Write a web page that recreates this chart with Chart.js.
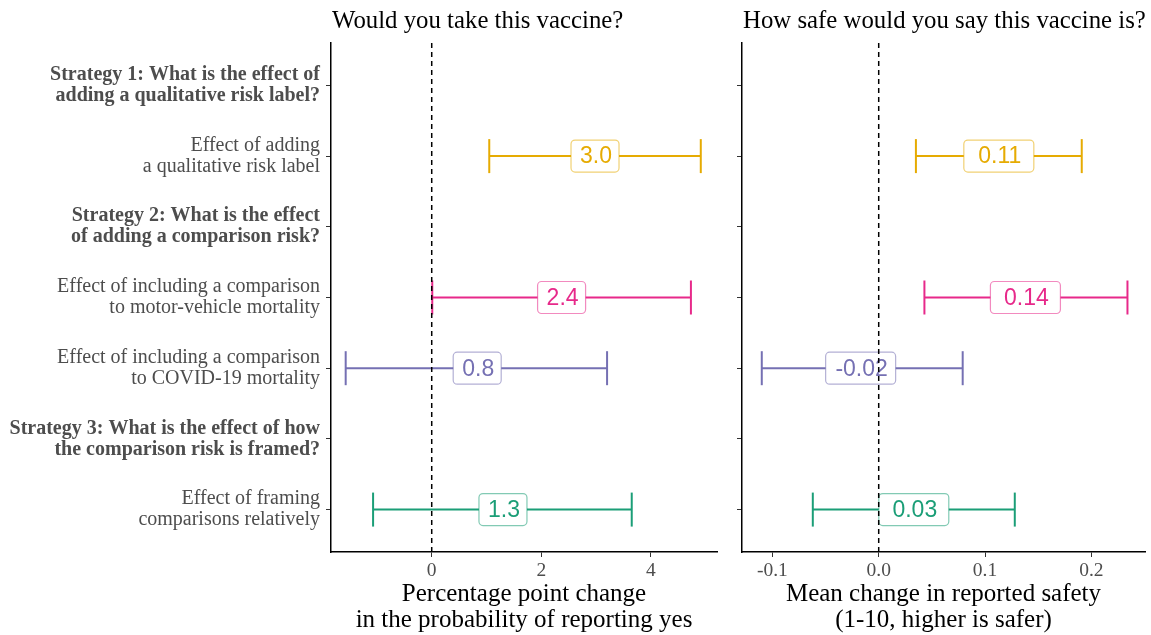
<!DOCTYPE html>
<html>
<head>
<meta charset="utf-8">
<script src="https://cdn.jsdelivr.net/npm/chart.js@4.4.1/dist/chart.umd.min.js"></script>
<style>
  html, body { margin: 0; padding: 0; background: #ffffff; }
  #wrap { position: relative; width: 1151px; height: 635px; overflow: hidden; background: #fff; }
  #c1 { position: absolute; left: 0; top: 0; }
  #c2 { position: absolute; left: 725px; top: 0; }
</style>
</head>
<body>
<div id="wrap">
  <canvas id="c1" width="730" height="635" style="width:730px;height:635px"></canvas>
  <canvas id="c2" width="426" height="635" style="width:426px;height:635px"></canvas>
</div>
<script>
// ---------------- DATA ----------------
const categories = [
  ["Strategy 1: What is the effect of", "adding a qualitative risk label?"],
  ["Effect of adding", "a qualitative risk label"],
  ["Strategy 2: What is the effect", "of adding a comparison risk?"],
  ["Effect of including a comparison", "to motor-vehicle mortality"],
  ["Effect of including a comparison", "to COVID-19 mortality"],
  ["Strategy 3: What is the effect of how", "the comparison risk is framed?"],
  ["Effect of framing", "comparisons relatively"]
];
const isHeader = [true, false, true, false, false, true, false];
const effectRows = [1, 3, 4, 6];
const effectColors = ["#E6AB02", "#E7298A", "#7570B3", "#1B9E77"];

// Panel 1: Would you take this vaccine? (percentage points)
const takeEst = [2.98, 2.37, 0.83, 1.30];
const takeLow = [1.05, 0.01, -1.57, -1.07];
const takeHigh = [4.91, 4.73, 3.20, 3.65];
const takeLabels = ["3.0", "2.4", "0.8", "1.3"];
const takeTicks = [0, 2, 4];

// Panel 2: How safe would you say this vaccine is? (mean change, 1-10)
const safeEst = [0.113, 0.138, -0.017, 0.033];
const safeLow = [0.035, 0.043, -0.110, -0.062];
const safeHigh = [0.191, 0.234, 0.079, 0.128];
const safeLabels = ["0.11", "0.14", "-0.02", "0.03"];
const safeTicks = [-0.1, 0.0, 0.1, 0.2];

const panelTitles = ["Would you take this vaccine?", "How safe would you say this vaccine is?"];
const axisTitles = [
  ["Percentage point change", "in the probability of reporting yes"],
  ["Mean change in reported safety", "(1-10, higher is safer)"]
];

// ---------------- HELPERS ----------------
const SERIF = "'Liberation Serif', 'Times New Roman', serif";
const SANS = "'Liberation Sans', Arial, sans-serif";

function hexA(hex, a) {
  const n = parseInt(hex.slice(1), 16);
  return `rgba(${(n >> 16) & 255},${(n >> 8) & 255},${n & 255},${a})`;
}

const labelPlugin = {
  id: 'estLabels',
  beforeDatasetDraw(chart, args, opts) {
    if (args.index !== 0) return;
    const ctx = chart.ctx;
    const xs = chart.scales.x, ys = chart.scales.y;
    const est = opts.est, labels = opts.labels;
    ctx.save();
    ctx.font = "23px " + SANS;
    ctx.textAlign = 'center';
    ctx.textBaseline = 'middle';
    for (let i = 0; i < est.length; i++) {
      const cx = xs.getPixelForValue(est[i]);
      const cy = ys.getPixelForValue(effectRows[i]);
      const w = Math.max(ctx.measureText(labels[i]).width + 15, opts.boxW);
      const h = 32;
      const x0 = cx - w / 2, y0 = cy - h / 2;
      ctx.beginPath();
      ctx.roundRect(x0, y0, w, h, 4);
      ctx.fillStyle = '#ffffff';
      ctx.fill();
      ctx.lineWidth = 1.2;
      ctx.strokeStyle = hexA(effectColors[i], 0.55);
      ctx.stroke();
      ctx.fillStyle = effectColors[i];
      ctx.fillText(labels[i], cx + 1, cy + 1);
    }
    ctx.restore();
  }
};

const titlePlugin = {
  id: 'panelTitle',
  afterDraw(chart, args, opts) {
    const ctx = chart.ctx;
    ctx.save();
    ctx.font = "24.8px " + SERIF;
    ctx.fillStyle = '#000';
    ctx.textAlign = 'left';
    ctx.textBaseline = 'alphabetic';
    ctx.fillText(opts.text, chart.chartArea.left + 1, 28);
    ctx.restore();
  }
};

function makePanel(canvasId, cfg) {
  const datasets = [];
  // zero reference line (index 0 -> drawn last, on top)
  datasets.push({
    data: [{ x: 0, y: -0.6 }, { x: 0, y: 6.6 }],
    borderColor: '#000',
    borderWidth: 1.5,
    borderDash: [5, 4],
    pointRadius: 0,
    fill: false
  });
  for (let i = 0; i < cfg.est.length; i++) {
    datasets.push({
      data: [{ x: cfg.low[i], y: effectRows[i] }, { x: cfg.high[i], y: effectRows[i] }],
      borderColor: effectColors[i],
      borderWidth: 2,
      pointStyle: 'line',
      rotation: 90,
      pointRadius: 17,
      pointBorderWidth: 2,
      pointBorderColor: effectColors[i],
      pointBackgroundColor: effectColors[i],
      fill: false
    });
  }
  return new Chart(document.getElementById(canvasId), {
    type: 'line',
    data: { datasets },
    plugins: [labelPlugin, titlePlugin],
    options: {
      responsive: false,
      animation: false,
      events: [],
      layout: { autoPadding: false, padding: { left: 0, right: cfg.padRight, top: 43, bottom: 0 } },
      plugins: {
        legend: { display: false },
        tooltip: { enabled: false },
        estLabels: { est: cfg.est, labels: cfg.labels, boxW: cfg.boxW },
        panelTitle: { text: cfg.title }
      },
      scales: {
        x: {
          type: 'linear',
          min: cfg.min,
          max: cfg.max,
          afterBuildTicks(scale) { scale.ticks = cfg.ticks.map(v => ({ value: v })); },
          afterFit(scale) { scale.height = 83; scale.paddingLeft = 0; scale.paddingRight = 0; },
          grid: { display: true, drawOnChartArea: false, drawTicks: true, tickLength: 5, color: '#333', lineWidth: 1 },
          border: { display: true, color: '#000', width: 1.5 },
          ticks: {
            font: { family: SERIF, size: 19.5 },
            color: '#4D4D4D',
            padding: 2,
            maxRotation: 0,
            autoSkip: false,
            callback: cfg.fmt
          },
          title: {
            display: true,
            text: cfg.axisTitle,
            font: { family: SERIF, size: 25, lineHeight: 26 / 25 },
            color: '#000',
            padding: { top: 0, bottom: 2 }
          }
        },
        y: {
          type: 'linear',
          min: -0.6,
          max: 6.6,
          reverse: true,
          afterBuildTicks(scale) { scale.ticks = categories.map((c, i) => ({ value: i })); },
          afterFit(scale) { scale.width = cfg.yWidth; scale.paddingTop = 0; scale.paddingBottom = 0; },
          grid: { display: true, drawOnChartArea: false, drawTicks: true, tickLength: 5, color: '#333', lineWidth: 1 },
          border: { display: true, color: '#000', width: 1.5 },
          ticks: {
            display: cfg.showY,
            autoSkip: false,
            padding: 6,
            color: '#4D4D4D',
            font: (ctx) => ({
              family: SERIF,
              size: 20,
              lineHeight: 21 / 20,
              weight: (ctx.tick && isHeader[ctx.tick.value]) ? 'bold' : 'normal'
            }),
            callback: (v) => categories[v]
          }
        }
      }
    }
  });
}

makePanel('c1', {
  est: takeEst, low: takeLow, high: takeHigh, labels: takeLabels,
  ticks: takeTicks, min: -1.838, max: 5.206,
  fmt: (v) => String(v),
  title: panelTitles[0], axisTitle: axisTitles[0],
  yWidth: 331, padRight: 13, showY: true, boxW: 48
});

makePanel('c2', {
  est: safeEst, low: safeLow, high: safeHigh, labels: safeLabels,
  ticks: safeTicks, min: -0.1286, max: 0.2505,
  fmt: (v) => v.toFixed(1),
  title: panelTitles[1], axisTitle: axisTitles[1],
  yWidth: 17, padRight: 6, showY: false, boxW: 70
});
</script>
</body>
</html>
